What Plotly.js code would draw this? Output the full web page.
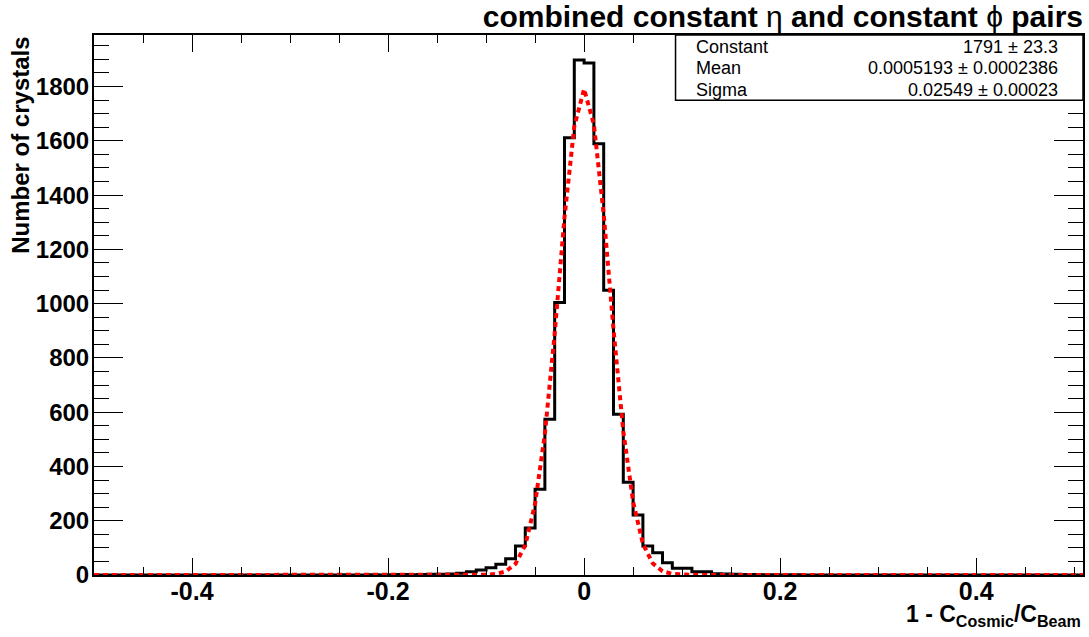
<!DOCTYPE html>
<html>
<head>
<meta charset="utf-8">
<script src="https://cdn.plot.ly/plotly-3.0.1.min.js"></script>
<style>html,body{margin:0;padding:0;background:#fff;}#chart{width:1089px;height:637px;}</style>
</head>
<body>
<div id="chart"></div>
<script>
// ---- data ----
const binLow = -0.5;
const binWidth = 0.01;
// 101 bins from -0.5 to 0.51 (counts of crystals)
const counts = [
  0,0,0,0,0,0,0,0,0,0,          // -0.50 .. -0.40
  0,0,0,0,0,0,0,0,0,0,          // -0.40 .. -0.30
  0,0,0,0,0,1,0,0,1,0,          // -0.30 .. -0.20
  1,2,1,2,3,3,4,6,12,18,        // -0.20 .. -0.10
  27,40,60,107,173,316,574,1004,1611,1898, // -0.10 .. 0.00
  1887,1589,1049,592,342,221,107,82,45,25, //  0.00 .. 0.10
  25,12,12,5,4,3,2,2,1,1,       //  0.10 .. 0.20
  0,1,0,0,0,0,0,0,0,0,          //  0.20 .. 0.30
  0,0,0,0,0,0,0,0,0,0,          //  0.30 .. 0.40
  0,0,0,0,0,0,0,0,0,0,          //  0.40 .. 0.50
  0                              //  0.50 .. 0.51
];
// Gaussian fit curve
const fitX = [-0.5,-0.2,-0.13,-0.12,-0.11,-0.10,-0.09,-0.08,-0.07,-0.06,-0.05,-0.04,-0.03,-0.02,-0.01,0.0,
              0.01,0.02,0.03,0.04,0.05,0.06,0.07,0.08,0.09,0.10,0.11,0.12,0.13,0.2,0.51];
const fitY = [0,0,0,0.3,0.6,1,4,13,41,110,262,520,890,1318,1653,1791,
              1660,1330,905,530,270,115,43,14,4,1,0.6,0.3,0,0,0];

const xTickVals = [-0.4,-0.2,0,0.2,0.4];
const xTickText = ["-0.4","-0.2","0","0.2","0.4"];
const yTickVals = [0,200,400,600,800,1000,1200,1400,1600,1800];
const yTickText = ["0","200","400","600","800","1000","1200","1400","1600","1800"];

const titleText = "<b>combined constant </b>η<b> and constant </b>ϕ<b> pairs</b>";
const yTitleText = "<b>Number of crystals</b>";
const xTitleText = "<b>1 - C<sub>Cosmic</sub>/C<sub>Beam</sub></b>";
const statNames = ["Constant","Mean","Sigma"];
const statValues = ["1791 ± 23.3","0.0005193 ± 0.0002386","0.02549 ± 0.00023"];

// ---- build step outline from bin edges ----
const stepX = counts.map((c,i)=> binLow + binWidth*i);
stepX.push(binLow + binWidth*counts.length);
const stepY = counts.slice();
stepY.push(counts[counts.length-1]);

const FONT = "Liberation Sans, Arial, Helvetica, sans-serif";

const traces = [
  {x: stepX, y: stepY, type:'scatter', mode:'lines',
   line:{shape:'hv', color:'#000000', width:3}, hoverinfo:'skip'},
  {x: fitX, y: fitY, type:'scatter', mode:'lines',
   line:{shape:'linear', color:'#ff0000', width:4, dash:'5px,4px'}, hoverinfo:'skip'}
];

const statRowsY = [0.978, 0.939, 0.899];
const annotations = [
  {text: yTitleText, xref:'paper', yref:'paper', x:-0.0745, y:1.0, xanchor:'center', yanchor:'top',
   textangle:-90, showarrow:false, font:{family:FONT, size:24, color:'#000'}},
  {text: xTitleText, xref:'paper', yref:'paper', x:1.0, y:-0.044, xanchor:'right', yanchor:'top',
   showarrow:false, font:{family:FONT, size:23, color:'#000'}}
];
statNames.forEach((n,i)=>{
  annotations.push({text:n, xref:'paper', yref:'paper', x:0.607, y:statRowsY[i], xanchor:'left', yanchor:'middle',
    showarrow:false, font:{family:FONT, size:18, color:'#000'}});
  annotations.push({text:statValues[i], xref:'paper', yref:'paper', x:0.977, y:statRowsY[i], xanchor:'right', yanchor:'middle',
    showarrow:false, font:{family:FONT, size:18, color:'#000'}});
});

const layout = {
  width:1089, height:637,
  margin:{l:94, r:6, t:35, b:62},
  paper_bgcolor:'#ffffff', plot_bgcolor:'#ffffff',
  showlegend:false,
  title:{text:titleText, xref:'paper', x:1, xanchor:'right', yref:'container', y:0.974, yanchor:'middle',
         font:{family:FONT, size:30, color:'#000'}},
  xaxis:{range:[-0.5,0.509], tickmode:'array', tickvals:xTickVals, ticktext:xTickText,
         ticks:'inside', ticklen:17, tickwidth:1, tickcolor:'#000',
         minor:{ticks:'inside', tickmode:'linear', tick0:0, dtick:0.05, ticklen:8, tickwidth:1, tickcolor:'#000', showgrid:false},
         showline:true, linecolor:'#000', linewidth:2, mirror:'ticks',
         showgrid:false, zeroline:false, ticklabelstandoff:-7,
         tickfont:{family:FONT, size:25, color:'#000', weight:'bold'}},
  yaxis:{range:[0,1990], tickmode:'array', tickvals:yTickVals, ticktext:yTickText,
         ticks:'inside', ticklen:29, tickwidth:1, tickcolor:'#000',
         minor:{ticks:'inside', tickmode:'linear', tick0:0, dtick:50, ticklen:15, tickwidth:1, tickcolor:'#000', showgrid:false},
         showline:true, linecolor:'#000', linewidth:2, mirror:'ticks',
         showgrid:false, zeroline:false, ticklabelstandoff:-2,
         tickfont:{family:FONT, size:24, color:'#000', weight:'bold'}},
  shapes:[
    {type:'rect', xref:'paper', yref:'paper', x0:0.588, x1:1.0, y0:0.879, y1:1.0,
     fillcolor:'#ffffff', line:{color:'#000', width:1.5}, layer:'above'}
  ],
  annotations: annotations
};

Plotly.newPlot('chart', traces, layout, {displayModeBar:false, staticPlot:true});
</script>
</body>
</html>
